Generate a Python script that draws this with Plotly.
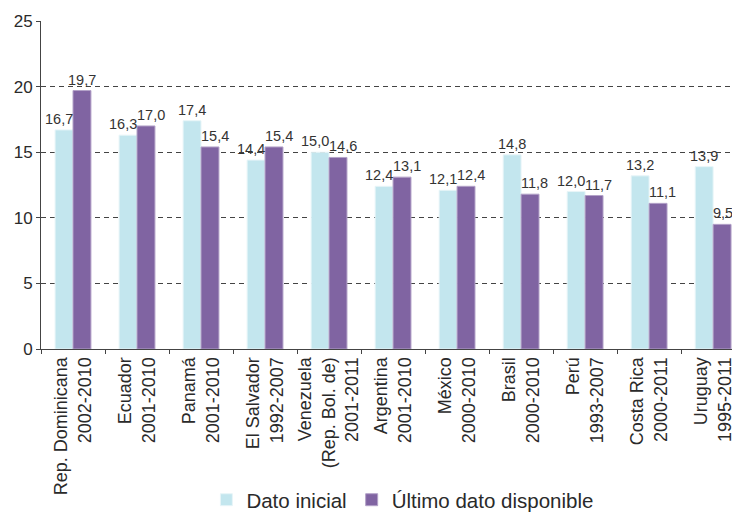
import plotly.graph_objects as go

categories = ["Rep. Dominicana<br>2002-2010", "Ecuador<br>2001-2010", "Panamá<br>2001-2010",
              "El Salvador<br>1992-2007", "Venezuela<br>(Rep. Bol. de)<br>2001-2011",
              "Argentina<br>2001-2010", "México<br>2000-2010", "Brasil<br>2000-2010",
              "Perú<br>1993-2007", "Costa Rica<br>2000-2011", "Uruguay<br>1995-2011"]
dato_inicial = [16.7, 16.3, 17.4, 14.4, 15.0, 12.4, 12.1, 14.8, 12.0, 13.2, 13.9]
ultimo_dato = [19.7, 17.0, 15.4, 15.4, 14.6, 13.1, 12.4, 11.8, 11.7, 11.1, 9.5]
y_ticks = [0, 5, 10, 15, 20, 25]

BARGAP = 0.44
bar_w = (1 - BARGAP) / 2

def fmt(v):
    return f"{v:.1f}".replace(".", ",")

fig = go.Figure()
fig.add_trace(go.Bar(
    x=categories, y=dato_inicial, name="Dato inicial",
    marker=dict(color="#C3E6EE", line=dict(color="#E8F5F8", width=1)),
))
fig.add_trace(go.Bar(
    x=categories, y=ultimo_dato, name="Último dato disponible",
    marker=dict(color="#8064A2", line=dict(color="#B3A2C8", width=1)),
))

label_font = dict(family="Liberation Sans, Arial, sans-serif", size=14.5, color="#333333")
annotations = []
for i, (a, b) in enumerate(zip(dato_inicial, ultimo_dato)):
    # initial-value label: pushed left when the neighbouring bar is taller or close
    if b > a - 1.05:
        annotations.append(dict(x=i, y=a, xref="x", yref="y", text=fmt(a),
                                xanchor="right", yanchor="bottom", showarrow=False,
                                font=label_font, yshift=1, xshift=2))
    else:
        annotations.append(dict(x=i - bar_w / 2, y=a, xref="x", yref="y", text=fmt(a),
                                xanchor="center", yanchor="bottom", showarrow=False,
                                font=label_font, yshift=1))
    # last-value label: pushed right when the neighbouring bar is taller or close
    if a > b - 1.05:
        annotations.append(dict(x=i, y=b, xref="x", yref="y", text=fmt(b),
                                xanchor="left", yanchor="bottom", showarrow=False,
                                font=label_font, yshift=1, xshift=-2))
    else:
        annotations.append(dict(x=i + bar_w / 2, y=b, xref="x", yref="y", text=fmt(b),
                                xanchor="center", yanchor="bottom", showarrow=False,
                                font=label_font, yshift=1))

fig.update_layout(
    width=732, height=504,
    margin=dict(l=33, r=0, t=13, b=163, autoexpand=False),
    paper_bgcolor="white", plot_bgcolor="white",
    font=dict(family="Liberation Sans, Arial, sans-serif", color="#2a2a2a"),
    barmode="group", bargap=BARGAP, bargroupgap=0,
    showlegend=True,
    annotations=annotations,
    legend=dict(orientation="h", x=0.517, xanchor="center", y=-0.46, yanchor="middle",
                font=dict(size=20.5), itemwidth=30, traceorder="normal"),
    yaxis=dict(range=[0, 25], tickvals=y_ticks, showgrid=True, gridcolor="#444444",
               griddash="5px,4px", gridwidth=1, showline=True, linecolor="#444444",
               linewidth=1, ticks="outside", ticklen=4, tickcolor="#444444",
               tickfont=dict(size=17), zeroline=False, automargin=False),
    xaxis=dict(type="category", range=[-0.5, 10.42], tickangle=-90, showline=True,
               linecolor="#444444", linewidth=1, ticks="outside", ticklen=4,
               tickcolor="#444444", tickson="boundaries", tickfont=dict(size=18),
               automargin=False),
)

fig.write_html("out.html")
